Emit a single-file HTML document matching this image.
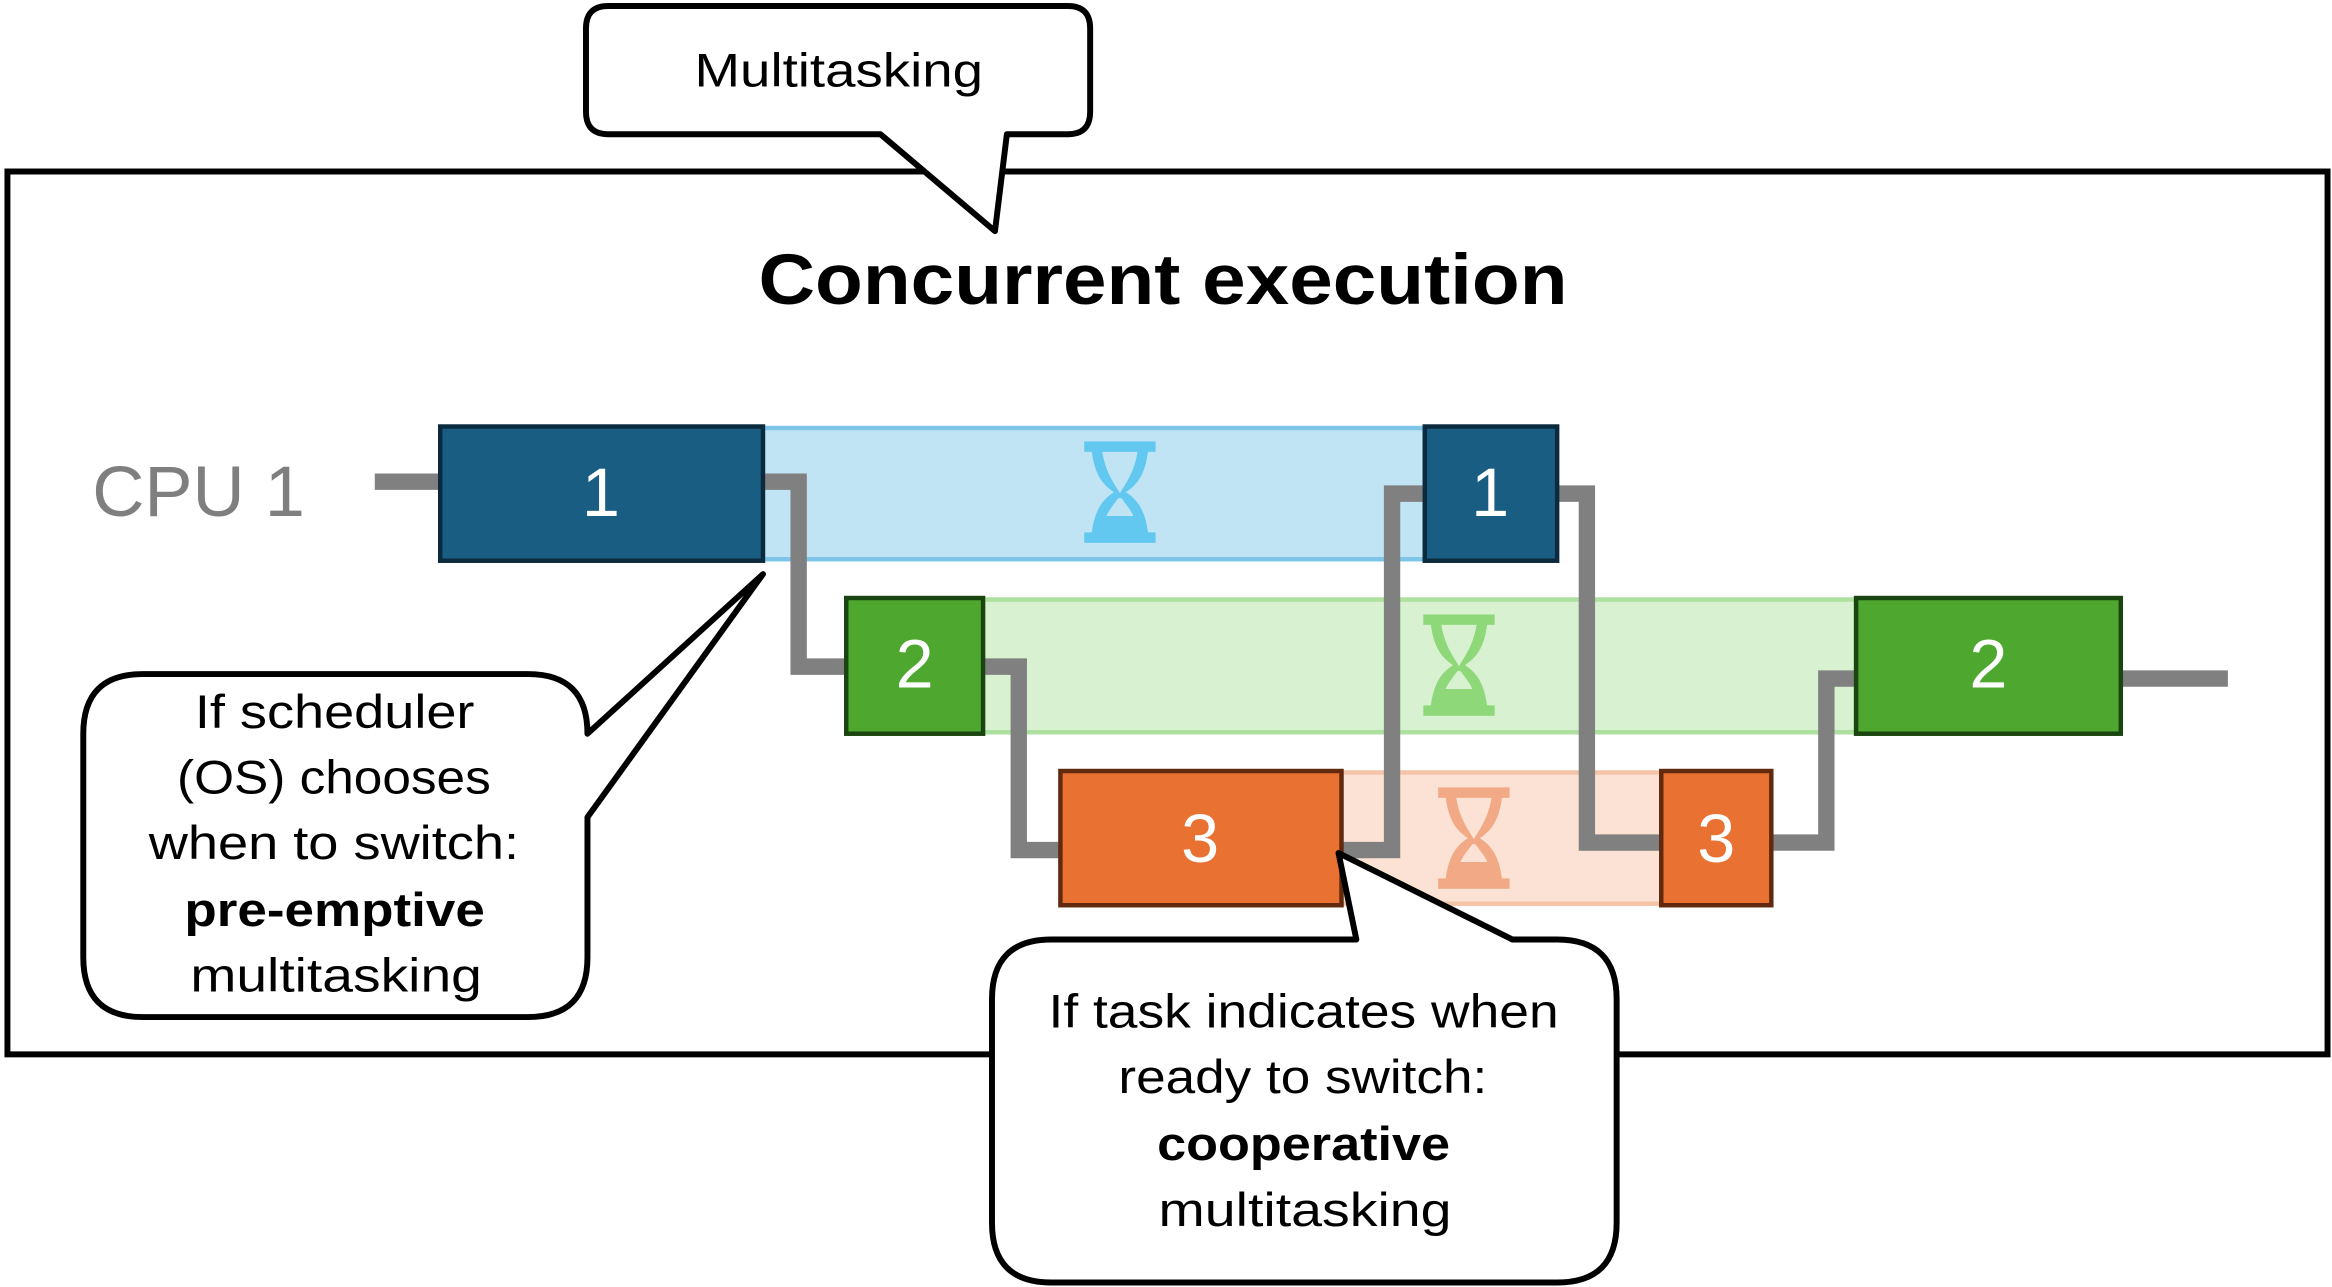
<!DOCTYPE html>
<html><head><meta charset="utf-8"><style>
html,body{margin:0;padding:0;background:#fff;}
svg{display:block;}
text{font-family:"Liberation Sans",sans-serif;}
</style></head><body>
<svg width="2332" height="1287" viewBox="0 0 1568 863" preserveAspectRatio="none" xmlns="http://www.w3.org/2000/svg">
<defs>
<g id="hg">
<rect x="-24" y="-34" width="48" height="7"/>
<rect x="-24" y="27" width="48" height="7"/>
<path d="M-19,-28 C-17,-10 -10,-4 -4,0 C-10,4 -17,10 -19,28 L19,28 C17,10 10,4 4,0 C10,-4 17,-10 19,-28 Z M-12,-28 L12,-28 C10,-14 4,-6 1,-1 C0,1 0,1 -1,-1 C-4,-6 -10,-14 -12,-28 Z M-1,4 C-4,8 -8,13 -9,16 L9,16 C8,13 4,8 1,4 Z" fill-rule="evenodd"/>
</g>
</defs>
<rect x="5" y="115" width="1560" height="592" fill="#fff" stroke="#000" stroke-width="4"/>
<text x="510" y="204" font-size="48" font-weight="bold" textLength="544" lengthAdjust="spacingAndGlyphs">Concurrent execution</text>
<text x="62" y="346" font-size="48" fill="#7f7f7f" textLength="143" lengthAdjust="spacingAndGlyphs">CPU 1</text>
<rect x="513" y="287" width="445" height="88" fill="#c0e4f4" stroke="#7dc6ea" stroke-width="3"/>
<rect x="661" y="402" width="587" height="89" fill="#d8f1d0" stroke="#aee0a0" stroke-width="3"/>
<rect x="902" y="518" width="215" height="88" fill="#fbe2d5" stroke="#f5c4a8" stroke-width="3"/>
<use href="#hg" x="753" y="330" fill="#63c8f0"/>
<use href="#hg" x="981" y="446" fill="#8fd87a"/>
<use href="#hg" x="991" y="562" fill="#f1aa85"/>
<g fill="none" stroke="#808080" stroke-width="11">
<path d="M252,323 H296"/>
<path d="M513,323 H537 V447 H569"/>
<path d="M661,447 H685 V570 H713"/>
<path d="M902,570 H936 V331 H958"/>
<path d="M1047,331 H1067 V565 H1117"/>
<path d="M1191,565 H1228 V455 H1248"/>
<path d="M1426,455 H1498"/>
</g>
<g stroke-width="3">
<rect x="296" y="286" width="217" height="90" fill="#195e82" stroke="#0c2a3e"/>
<rect x="958" y="286" width="89" height="90" fill="#195e82" stroke="#0c2a3e"/>
<rect x="569" y="401" width="92" height="91" fill="#4ea72e" stroke="#1b4510"/>
<rect x="1248" y="401" width="178" height="91" fill="#4ea72e" stroke="#1b4510"/>
<rect x="713" y="517" width="189" height="90" fill="#e97132" stroke="#612a0e"/>
<rect x="1117" y="517" width="74" height="90" fill="#e97132" stroke="#612a0e"/>
</g>
<g fill="#fff" font-size="46" text-anchor="middle">
<text x="404" y="346">1</text>
<text x="1002" y="346">1</text>
<text x="615" y="461">2</text>
<text x="1337" y="461">2</text>
<text x="807" y="578">3</text>
<text x="1154" y="578">3</text>
</g>
<g fill="#fff" stroke="#000" stroke-width="4" stroke-linejoin="round">
<path d="M409,4 H718 Q733,4 733,19 V75 Q733,90 718,90 H677 L669,155 L592,90 H409 Q394,90 394,75 V19 Q394,4 409,4 Z"/>
<path d="M96,452 H355 Q395,452 395,492 L513,385 L395,548 V642 Q395,682 355,682 H96 Q56,682 56,642 V492 Q56,452 96,452 Z"/>
<path d="M707,630 H912 L900,572 L1017,630 H1047 Q1087,630 1087,670 V820 Q1087,860 1047,860 H707 Q667,860 667,820 V670 Q667,630 707,630 Z"/>
</g>
<g font-size="32" lengthAdjust="spacingAndGlyphs">
<text x="467" y="58" textLength="194" lengthAdjust="spacingAndGlyphs">Multitasking</text>
<text x="131" y="488" textLength="188" lengthAdjust="spacingAndGlyphs">If scheduler</text>
<text x="119" y="532" textLength="211" lengthAdjust="spacingAndGlyphs">(OS) chooses</text>
<text x="100" y="576" textLength="249" lengthAdjust="spacingAndGlyphs">when to switch:</text>
<text x="124" y="621" font-weight="bold" textLength="202" lengthAdjust="spacingAndGlyphs">pre-emptive</text>
<text x="128" y="665" textLength="196" lengthAdjust="spacingAndGlyphs">multitasking</text>
<text x="705" y="689" textLength="343" lengthAdjust="spacingAndGlyphs">If task indicates when</text>
<text x="752" y="733" textLength="248" lengthAdjust="spacingAndGlyphs">ready to switch:</text>
<text x="778" y="778" font-weight="bold" textLength="197" lengthAdjust="spacingAndGlyphs">cooperative</text>
<text x="779" y="822" textLength="197" lengthAdjust="spacingAndGlyphs">multitasking</text>
</g>
</svg>
</body></html>
